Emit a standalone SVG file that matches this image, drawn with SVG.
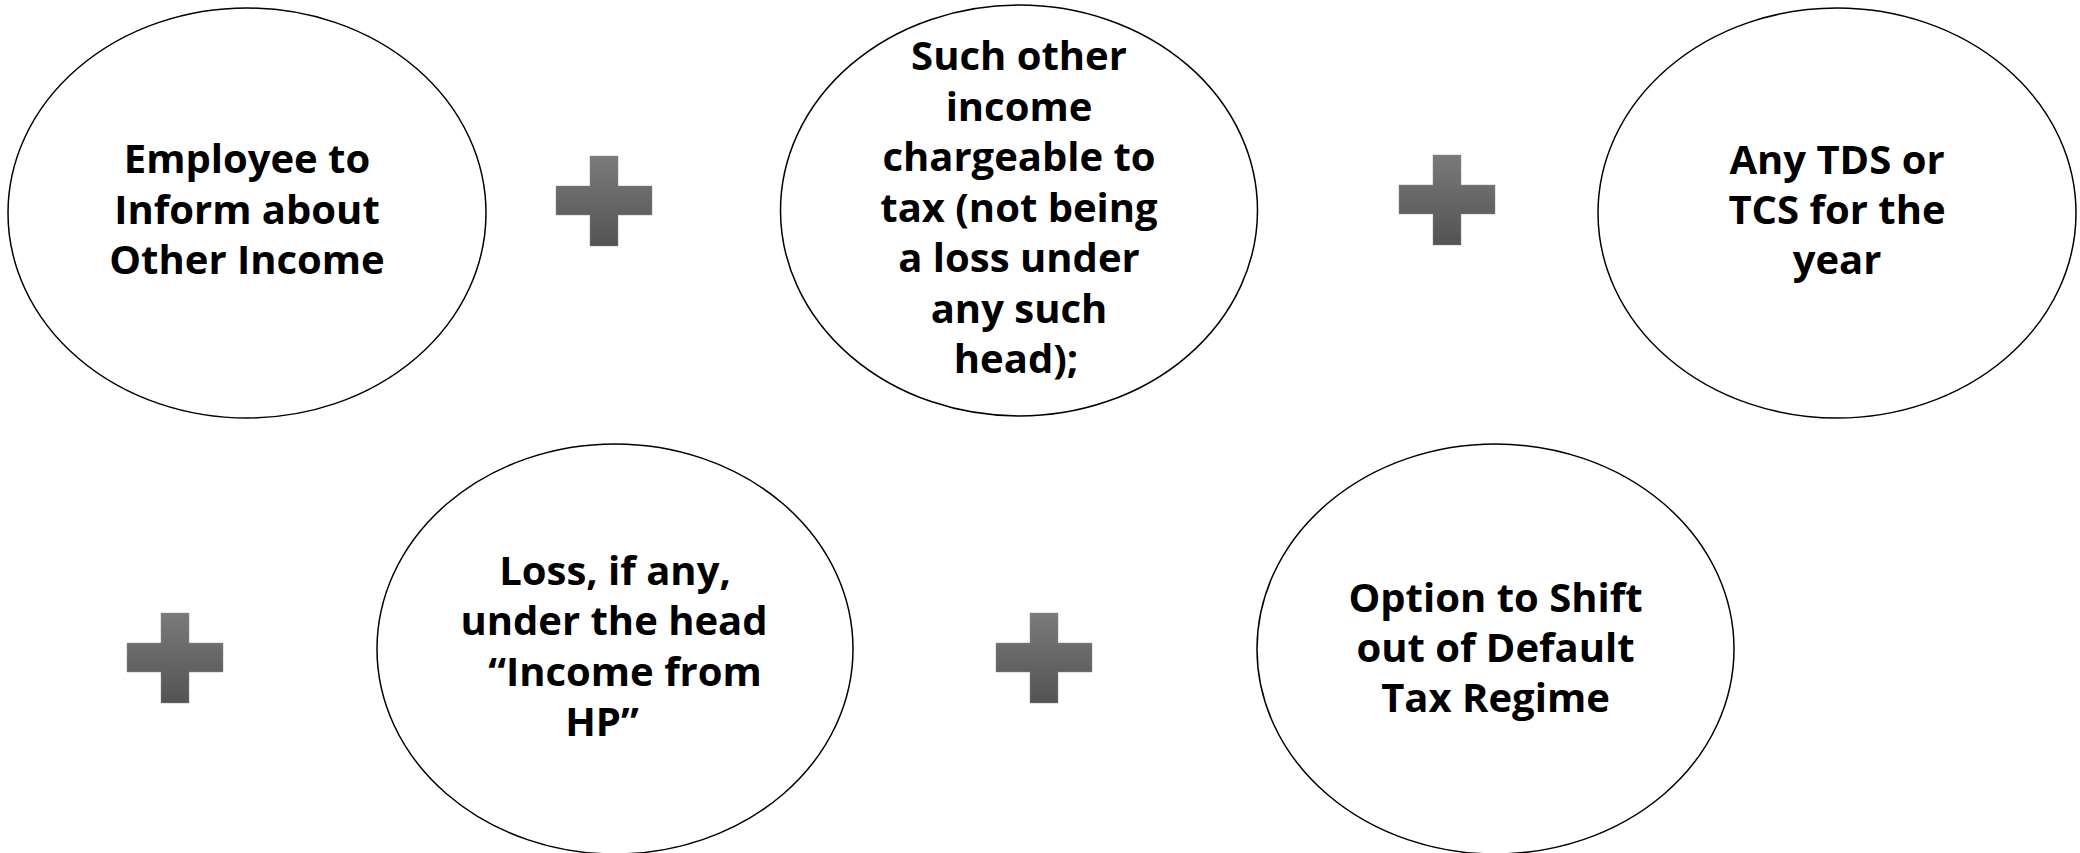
<svg xmlns="http://www.w3.org/2000/svg" width="2080" height="853" viewBox="0 0 2080 853">
  <defs>
    <linearGradient id="plusGrad" x1="0" y1="0" x2="0" y2="1">
      <stop offset="0" stop-color="#7a7a7a"/>
      <stop offset="1" stop-color="#535353"/>
    </linearGradient>
    <path id="plus" d="M34,0 H62 V30 H96 V59 H62 V90 H34 V59 H0 V30 H34 Z"/>
  </defs>
  <style>
    .node ellipse { fill: #ffffff; stroke: #000000; stroke-width: 1.5; }
    .node text { font-family: "Open Sans", "Noto Sans", "DejaVu Sans", sans-serif; font-weight: 700; font-size: 40px; fill: #000000; text-anchor: middle; }
    .plus { fill: url(#plusGrad); stroke: #8c8c8c; stroke-width: 0.8; stroke-opacity: 0.6; }
  </style>
  <rect width="2080" height="853" fill="#ffffff"/>

  <g id="connectors">
    <use href="#plus" class="plus" x="556" y="156"/>
    <use href="#plus" class="plus" x="1399" y="155"/>
    <use href="#plus" class="plus" x="127" y="613"/>
    <use href="#plus" class="plus" x="996" y="613"/>
  </g>

  <g id="node-employee" class="node">
    <ellipse cx="247" cy="213" rx="239" ry="205"/>
    <text x="247" y="173">Employee to</text>
    <text x="247" y="224">Inform about</text>
    <text x="247" y="274">Other Income</text>
  </g>

  <g id="node-other-income" class="node">
    <ellipse cx="1019" cy="210.5" rx="238.5" ry="205.5"/>
    <text x="1019" y="70">Such other</text>
    <text x="1019" y="120.5">income</text>
    <text x="1019" y="171">chargeable to</text>
    <text x="1019" y="221.5">tax (not being</text>
    <text x="1019" y="272">a loss under</text>
    <text x="1019" y="322.5">any such</text>
    <text x="1016" y="373">head);</text>
  </g>

  <g id="node-tds-tcs" class="node">
    <ellipse cx="1837" cy="213" rx="239" ry="205"/>
    <text x="1837" y="174">Any TDS or</text>
    <text x="1837" y="224">TCS for the</text>
    <text x="1837" y="274">year</text>
  </g>

  <g id="node-hp-loss" class="node">
    <ellipse cx="615" cy="649" rx="238" ry="205"/>
    <text x="615" y="584.5">Loss, if any,</text>
    <text x="614" y="635">under the head</text>
    <text x="625" y="685.5">“Income from</text>
    <text x="602" y="735.5">HP”</text>
  </g>

  <g id="node-shift-regime" class="node">
    <ellipse cx="1495.5" cy="649" rx="238.5" ry="205"/>
    <text x="1495.5" y="612">Option to Shift</text>
    <text x="1495.5" y="662">out of Default</text>
    <text x="1495.5" y="712">Tax Regime</text>
  </g>
</svg>
